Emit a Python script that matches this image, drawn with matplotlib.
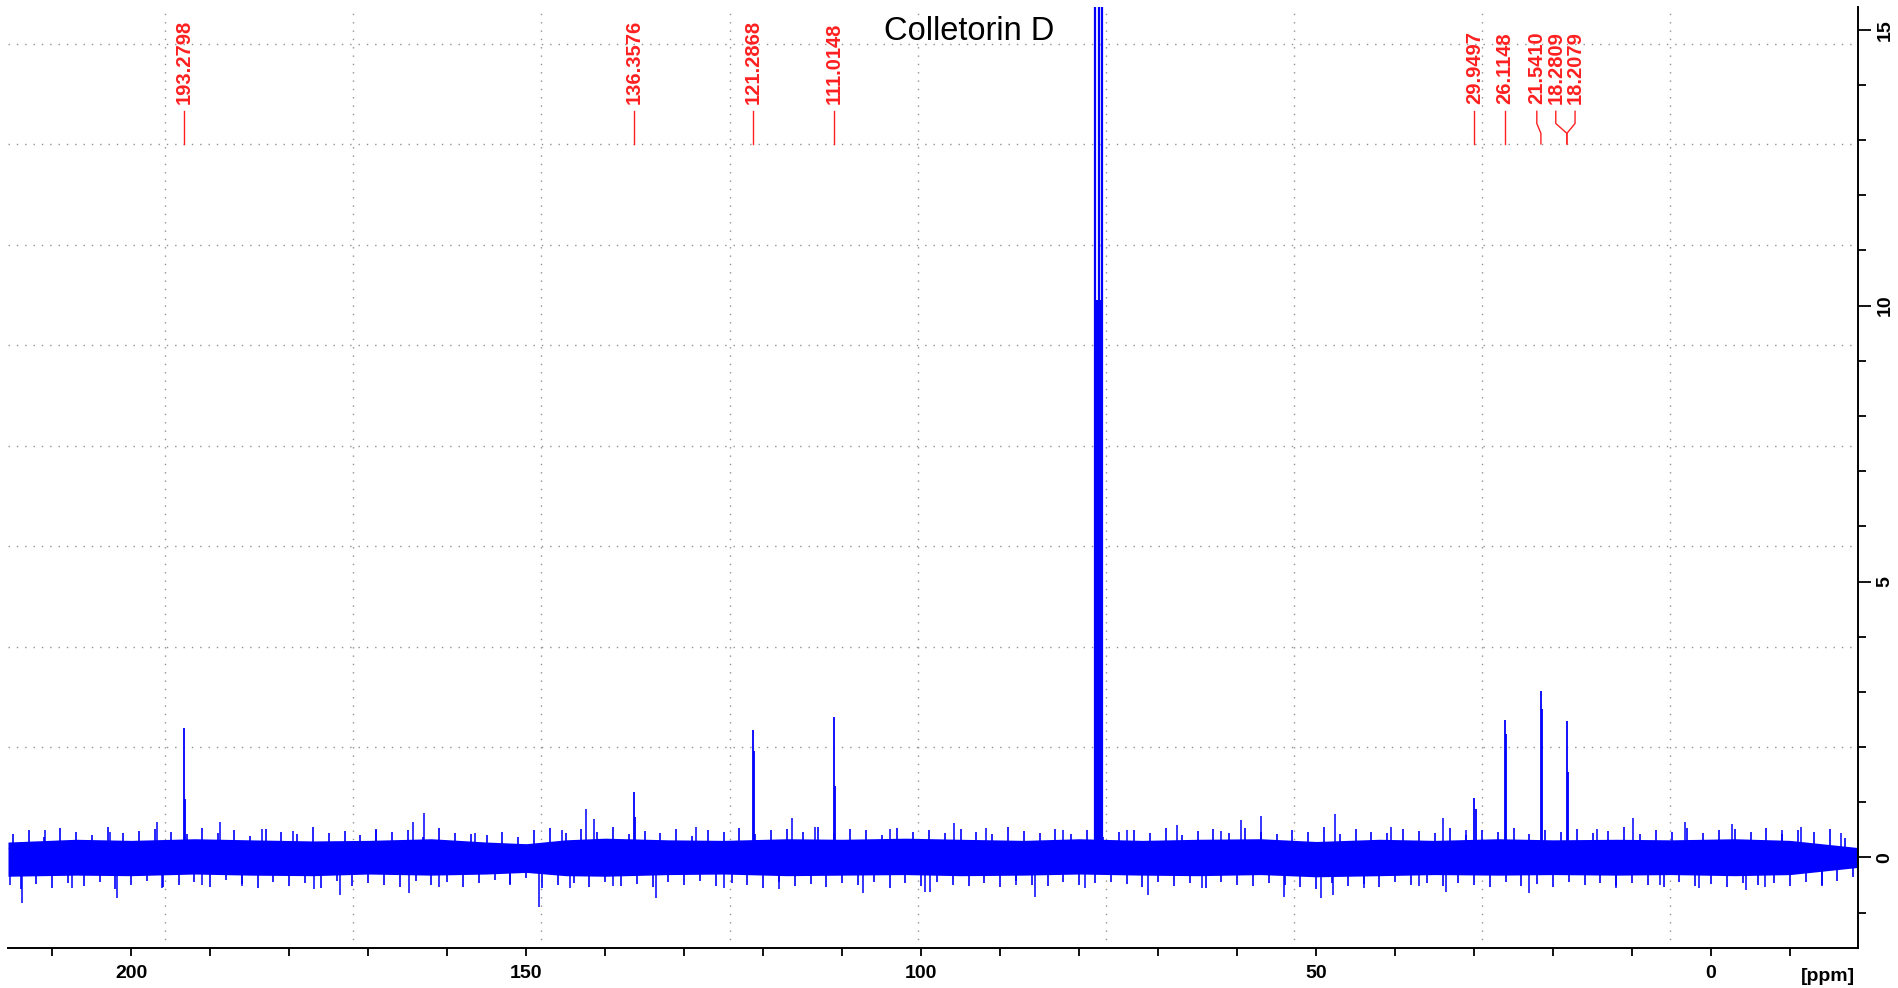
import numpy as np
import matplotlib
matplotlib.use("Agg")
import matplotlib.pyplot as plt

plt.rcParams['font.family'] = 'Liberation Sans'

# picked peaks (ppm) and where their labels sit
pick_ppm = [193.2798, 136.3576, 121.2868, 111.0148, 29.9497, 26.1148, 21.5410, 18.2809, 18.2079]
pick_label_x = [193.2798, 136.3576, 121.2868, 111.0148, 29.9497, 26.1148, 22.06, 19.66, 17.22]
pick_line_x = [193.2798, 136.3576, 121.2868, 111.0148, 29.9497, 26.1148, 21.5410, 18.25, 18.25]

# signal lines: top point and second point of each peak
peak_ppm = [193.28, 136.36, 121.29, 111.01, 29.95, 26.11, 21.54, 18.27]
peak_top = [2.34, 1.18, 2.31, 2.54, 1.07, 2.49, 3.01, 2.47]
peak_low = [1.06, 0.74, 1.93, 1.30, 0.88, 2.24, 2.69, 1.55]

# CDCl3 triplet (goes off scale)
solvent_ppm = [77.95, 77.53, 77.11]
solvent_top = 16.5
solvent_fill = 10.1

# baseline noise: upper / lower swing every 2 ppm, from 215 ppm down to -17 ppm
noise_hi = [.43, .50, .38, .53, .46, .41, .56, .44, .48, .52,
            .47, .42, .54, .45, .49, .39, .51, .46, .43, .55,
            .44, .48, .41, .52, .46, .50, .38, .53, .45, .42,
            .40, .46, .37, .49, .54, .44, .51, .47, .56, .43,
            .48, .45, .52, .39, .50, .46, .54, .43, .49, .51,
            .47, .55, .44, .52, .49, .41, .53, .46, .50, .44,
            .52, .47, .43, .55, .48, .45, .51, .42, .49, .38,
            .46, .50, .44, .53, .41, .48, .52, .45, .54, .47,
            .43, .49, .46, .55, .42, .51, .47, .44, .52, .48,
            .45, .53, .41, .49, .46, .54, .43, .50, .47, .52,
            .44, .48, .55, .42, .50, .46, .53, .45, .49, .51,
            .47, .54, .43, .50, .46, .52, .36]
noise_lo = [-.58, -.48, -.55, -.46, -.52, -.44, -.57, -.49, -.43, -.54,
            -.50, -.45, -.53, -.41, -.48, -.56, -.44, -.51, -.47, -.55,
            -.43, -.52, -.46, -.49, -.54, -.42, -.50, -.45, -.53, -.47,
            -.41, -.48, -.38, -.55, -.49, -.46, -.53, -.44, -.51, -.48,
            -.54, -.45, -.50, -.43, -.52, -.47, -.49, -.55, -.44, -.51,
            -.48, -.53, -.46, -.50, -.44, -.56, -.47, -.52, -.45, -.49,
            -.51, -.46, -.54, -.43, -.49, -.52, -.45, -.50, -.47, -.44,
            -.48, -.53, -.45, -.51, -.47, -.55, -.44, -.50, -.52, -.46,
            -.49, -.54, -.58, -.46, -.51, -.48, -.53, -.45, -.50, -.47,
            -.52, -.46, -.49, -.54, -.44, -.51, -.48, -.53, -.45, -.50,
            -.47, -.52, -.46, -.49, -.54, -.45, -.51, -.48, -.53, -.46,
            -.50, -.47, -.52, -.45, -.49, -.42, -.36]

# baseline core (solid part of the noise band)
band_ppm = [215.6, 207, 200, 192, 185, 177, 170, 162, 155, 150, 145, 140, 132, 125, 117, 110,
            102, 95, 87, 80, 72, 65, 57, 50, 42, 35, 27, 20, 12, 5, -3, -10, -18.6]
band_hi = [0.28, 0.33, 0.31, 0.34, 0.32, 0.30, 0.31, 0.34, 0.28, 0.25, 0.32, 0.35, 0.32, 0.31,
           0.34, 0.33, 0.35, 0.33, 0.31, 0.34, 0.31, 0.33, 0.34, 0.29, 0.33, 0.31, 0.34, 0.32,
           0.33, 0.32, 0.34, 0.31, 0.18]
band_lo = [-0.34, -0.32, -0.33, -0.30, -0.32, -0.33, -0.30, -0.32, -0.30, -0.27, -0.33, -0.34,
           -0.31, -0.30, -0.33, -0.32, -0.31, -0.33, -0.32, -0.30, -0.32, -0.33, -0.31, -0.35,
           -0.33, -0.31, -0.32, -0.31, -0.32, -0.31, -0.33, -0.31, -0.18]

# larger noise spikes
spike_ppm = [215.4, 213.8, 210.9, 207.5, 202.7, 201.8, 196.7, 196.1, 191.0, 188.7, 186.0, 183.5,
             179.5, 176.9, 173.6, 169.0, 164.3, 162.9, 164.8, 161.0, 156.5, 152.0, 148.4, 145.5,
             142.4, 141.4, 144.5, 139.0, 133.6, 128.5, 125.0, 118.0, 116.4, 113.5, 107.3, 104.0,
             99.5, 98.9, 95.9, 91.8, 88.0, 85.6, 82.0, 79.3, 74.0, 71.3, 67.6, 64.4, 62.0,
             59.5, 57.0, 54.1, 49.4, 47.6, 47.8, 44.0, 40.5, 37.0, 33.9, 33.5, 31.0, 23.1,
             14.5, 12.0, 9.9, 6.5, 3.3, 1.5, -2.6, -4.4, -6.8, -9.0, -11.4, -14.0, -16.5]
spike_val = [-0.50, -0.83, 0.50, -0.55, 0.47, -0.73, 0.65, -0.56, -0.50, 0.65, -0.52, 0.52,
             0.48, -0.58, -0.68, 0.50, 0.65, 0.80, -0.65, -0.53, 0.45, -0.50, -0.90, 0.50,
             0.88, 0.69, -0.55, -0.52, -0.74, 0.55, -0.55, -0.58, 0.72, 0.55, -0.65, 0.52,
             -0.62, -0.62, 0.63, 0.53, -0.50, -0.71, 0.50, -0.56, 0.50, -0.68, 0.58, -0.56, 0.48,
             0.68, 0.75, -0.71, -0.73, 0.78, -0.68, -0.55, 0.55, -0.52, 0.72, -0.62, 0.50, -0.65,
             0.52, -0.55, 0.72, -0.50, 0.64, -0.56, 0.61, -0.59, -0.53, 0.50, 0.55, -0.52, 0.45]

x_left, x_right = 215.6, -18.6
y_bottom, y_top = -1.64, 15.41
blue = '#0000ff'
red = '#ff2020'

fig = plt.figure(figsize=(18.99, 9.88), dpi=100)
ax = fig.add_axes([8 / 1899, 40 / 988, 1850 / 1899, 941 / 988])
ax.set_xlim(x_left, x_right)
ax.set_ylim(y_bottom, y_top)

# dotted grid, evenly spaced from the right/bottom edges
for k in range(1, 10):
    ax.axvline(x_right + k * 23.81, color='#909090', lw=1.0, ls=(0, (1, 5)), zorder=0)
    ax.axhline(y_bottom + k * 1.82, color='#909090', lw=1.0, ls=(0, (1, 5)), zorder=0)

# noise: solid core plus short strokes (up on even ppm, down on odd ppm)
ax.fill_between(band_ppm, band_lo, band_hi, color=blue, lw=0, zorder=2)
up_x = np.arange(215, -18, -2.0)[:len(noise_hi)]
ax.vlines(up_x, 0, noise_hi, color=blue, lw=1.2, zorder=2)
ax.vlines(up_x - 1.0, 0, noise_lo, color=blue, lw=1.2, zorder=2)
ax.vlines(spike_ppm, 0, spike_val, color=blue, lw=1.1, zorder=2)

# signals
ax.vlines(peak_ppm, 0, peak_top, color=blue, lw=1.3, zorder=3)
ax.vlines([p - 0.15 for p in peak_ppm], 0, peak_low, color=blue, lw=1.3, zorder=3)
ax.vlines(solvent_ppm, 0, solvent_top, color=blue, lw=1.6, zorder=3)
ax.fill_between([solvent_ppm[0] + 0.05, solvent_ppm[-1] - 0.05], 0.2, solvent_fill,
                color=blue, lw=0, zorder=3)

# peak labels
for p, lx, px in zip(pick_ppm, pick_label_x, pick_line_x):
    if abs(lx - px) < 0.01:
        ax.plot([px, px], [12.93, 13.52], color=red, lw=1.0, zorder=4)
    else:
        ax.plot([lx, lx, px, px], [13.52, 13.30, 13.12, 12.93], color=red, lw=1.0, zorder=4)
    ax.text(lx, 13.66, f"{p:.4f}", rotation=90, ha='center', va='bottom',
            color=red, fontsize=14.5, fontweight='bold', zorder=5)

# axes styling: bottom + right only
for s in ['left', 'top']:
    ax.spines[s].set_visible(False)
for s in ['bottom', 'right']:
    ax.spines[s].set_linewidth(1.4)
ax.yaxis.tick_right()
ax.set_xticks(np.arange(0, 201, 50))
ax.set_xticks(np.arange(-10, 211, 10), minor=True)
ax.set_yticks(np.arange(0, 16, 5))
ax.set_yticks(np.arange(-1, 16, 1), minor=True)
ax.tick_params(axis='x', which='both', direction='out', length=5.5, width=1.3, pad=7,
               labelsize=14)
ax.tick_params(axis='y', which='major', direction='out', length=9.5, width=1.3, pad=4,
               labelsize=14, labelrotation=90)
ax.tick_params(axis='y', which='minor', direction='out', length=5.5, width=1.3)
for lab in ax.get_xticklabels() + ax.get_yticklabels():
    lab.set_fontweight('bold')
for lab in ax.get_yticklabels():
    lab.set_verticalalignment('center')

fig.text(1828 / 1899, 1 - 976 / 988, '[ppm]', ha='center', va='center',
         fontsize=14, fontweight='bold')
fig.text(969 / 1899, 1 - 40 / 988, 'Colletorin D', ha='center', va='baseline',
         fontsize=23.5)

fig.savefig('out.png', dpi=100)
